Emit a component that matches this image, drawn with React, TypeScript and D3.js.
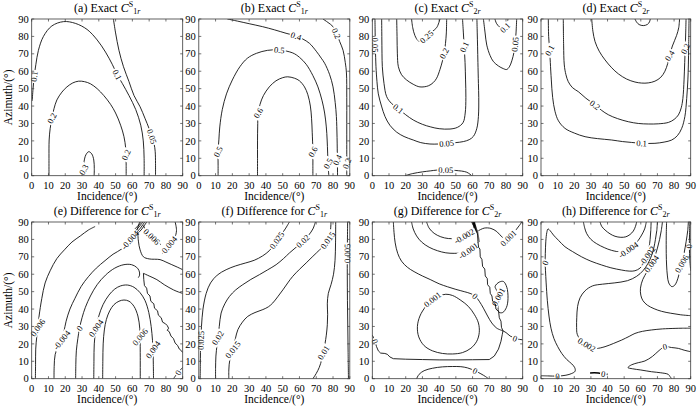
import React from "react";
import * as d3 from "d3";

type Pt = [number, number];
type Lab = { at: Pt; t: string; a?: number };
type Contour = { pts: Pt[]; labels?: Lab[]; linear?: boolean; closed?: boolean; width?: number };

const ticks = [0, 10, 20, 30, 40, 50, 60, 70, 80, 90];
const tickLabels = ticks.map(String);

// ---------- (a) Exact C1r ----------
const a01: Pt[] = [[0.3,43],[0.8,50],[1.5,57],[2.5,64],[4,72],[7,80],[12,86],[19,88.5],[26,87.5],[33,84],[39,78],[44,71],[48,64],[51,58],[54,53],[58,46],[62,38],[65,29],[66.5,20],[67,10],[67,0]];
const a005: Pt[] = [[48.7,90],[50,82],[52,72],[54.7,62.6],[58,54],[61,46],[64.6,39.6],[67.5,33],[70,27],[71.6,22.5],[73,18],[73.6,14],[73.8,7],[73.8,0]];
const a02: Pt[] = [[10.3,0],[10.3,10],[10.4,20.5],[11,27],[12,33],[13.3,38.5],[15,43.5],[18,48],[21,51],[24.5,53.3],[28,54.3],[31.5,54],[35,52.8],[39,50],[43,46],[47,41],[50,36],[53,29],[55,22.4],[56,16],[56.2,12],[56.3,6],[56.3,0]];
const a03: Pt[] = [[30.4,0],[31,3.5],[31.2,8],[32.3,12],[34,13.8],[35.8,12.5],[37,9],[37.3,4],[37.2,0]];

// ---------- (b) Exact C1r ----------
const b04: Pt[] = [[17,90],[23,88.8],[30,87.3],[38,85.6],[45,83.8],[52,81.8],[58,80.2],[62,78.5],[66,76],[70,71.5],[73,67.5],[75,64.6],[78,58],[80,51],[81.3,42],[82,34],[82.4,22],[82.6,9],[82.7,0]];
const b05: Pt[] = [[11.5,0],[11.5,6],[11.5,13.8],[12,21],[12.5,28],[14,38],[16.5,47],[20,55],[24.5,62.6],[29,67.5],[34.4,70.3],[41,72],[48,72.2],[56,70.5],[60,68],[64,64],[68,57.5],[71,51],[73.5,43],[75,36],[76,28],[76.5,20.5],[76.8,13],[77,7],[77.5,0]];
const b06: Pt[] = [[35,0],[35,10],[35,20],[35.1,28],[35.4,36],[36.5,41],[38.5,46],[42,51],[46,54.5],[50,56.3],[53,56.8],[57,56],[60,54.5],[63,51],[65,46.5],[66.5,40],[67.2,33],[67.6,25],[68,13.8],[68,6],[68,0]];
const b02: Pt[] = [[74,90],[77,88],[80,85.6],[82,81.8],[84,77],[86,72],[87.3,65],[88,59],[88.2,45],[88.2,30],[88.2,18],[88.2,7],[88.2,0]];

// ---------- (c) Exact C2r ----------
const c005a: Pt[] = [[1.6,90],[1.7,82],[1.8,75],[2,68],[2.2,62.6],[2.8,54],[3.6,47],[5.5,40],[7.6,34],[10.5,29],[14.6,25],[19,22.5],[24.5,20.5],[29,19],[34.5,18.2],[39.5,18.2],[44.5,18.6],[50,19],[54.5,19.6],[58,20.7],[60.5,22.6],[62.5,27],[63.5,34],[63.7,45],[63.5,53],[63.2,65],[63,74],[62.8,82],[62.6,90]];
const c01: Pt[] = [[5.6,90],[5.7,80],[5.8,70],[6,62.6],[7,53],[8.6,45.4],[11.5,41.5],[15.5,38.5],[20,35],[24.5,32],[30,29.5],[35,28],[40,27],[46.5,26.8],[51,27.8],[54.3,30.5],[55.6,36],[56,45],[55.8,55],[55.5,65],[55,74],[54.5,82],[54,90]];
const c02: Pt[] = [[14.6,90],[14.8,80],[15,70],[15.6,62.6],[17.5,58],[20.5,55],[24.5,52.5],[28.5,51],[33.5,51.6],[36.5,53.5],[38.5,56],[40.5,61],[42,66],[43,70.3],[43.8,76],[44.3,82],[44.5,90]];
const c025: Pt[] = [[23.5,90],[24.2,85],[25.5,80.5],[27.5,77.5],[29.5,77.3],[32.5,79.8],[35.5,82.5],[38.5,85],[40.5,90]];
const c005b: Pt[] = [[66.5,90],[67.5,82],[68.5,75],[70.5,69],[72.5,65.5],[75.5,63],[78.4,61.5],[80.4,61],[82,62.5],[83.5,66],[84.8,71],[85.4,75.5],[86,82],[86.4,90]];
const c01b: Pt[] = [[73.4,90],[74.3,87.5],[76,85.5],[77.5,84.5],[79.5,85],[80.6,87.5],[81.2,90]];
const c005c: Pt[] = [[19.6,0],[24,1.2],[30,2.2],[35,2.8],[38.5,3.2],[44,3.3],[50,3],[56.5,2],[59.5,0]];

// ---------- (d) Exact C2r ----------
const d01: Pt[] = [[4.4,90],[4.6,80],[5.2,72],[5.6,65],[6.2,55],[7,45],[8.4,37],[10.5,31.5],[14.4,27.2],[20,24.5],[26.5,22.4],[34,21.3],[42.5,20.5],[49,19.6],[54.5,19.1],[60.5,18.6],[68.5,18.6],[74,19.3],[78.6,20.5],[82,23],[84.6,27.2],[86.5,34],[87.6,44.4],[88.3,55],[88.6,63.6],[88.8,75],[89,90]];
const d02: Pt[] = [[13.4,90],[13.6,75],[14,63.6],[15,58],[16.4,54],[19,50.5],[22.4,48.3],[27,44.5],[32.5,40.6],[36.5,37.5],[40.5,35],[46,32.8],[52.5,31],[58.5,30],[64.5,29.7],[70.5,29.8],[76.6,30.6],[80,32.3],[82.6,34.9],[84.3,39],[85.3,44.4],[86,55],[86.4,65],[86.7,73],[87,82],[87.2,90]];
const d04: Pt[] = [[30.5,90],[31.2,83],[32.5,77],[35,71.5],[38.5,66.5],[42.5,62],[46.5,58.5],[51.5,55.5],[56.5,53.8],[60.5,53.2],[64.5,53.3],[68.5,54.3],[72,56.5],[74.5,60],[76.2,64.5],[77.3,69],[79,74.5],[81.5,80.5],[82.8,85],[83.3,90]];
const d05: Pt[] = [[56.5,90],[57.5,88.2],[59,86.8],[61.5,86.2],[64,86.9],[65.2,88.3],[65.7,90]];

// ---------- (e) Difference C1r ----------
const e006n: Pt[] = [[2.2,0],[2.3,8],[2.4,17],[3,24],[3.6,29.3],[4.4,36],[6,46],[8,55],[11,62],[15,69],[19.5,74],[24,78.5],[29,82],[33.8,85.4],[37.8,87.4]];
const e004n: Pt[] = [[13.3,0],[13.4,7],[14,14],[15.8,18.5],[17.9,22.2],[19.2,27],[20.5,33],[22.8,40],[25.8,46.2],[29.5,53],[33.8,58.6],[38.5,63.5],[43.7,67.8],[48.5,71.5],[53.6,74.5],[58.6,79.7],[61,82.5],[62.5,85],[63.5,87.5],[64.3,90]];
const e0: Pt[] = [[26.2,0],[26.3,8],[26.6,16],[27.5,23],[28.5,29],[30,35],[32,41],[35,47.5],[39,54],[44,59.5],[49.5,63.5],[55,65.5],[59.5,65.5],[62.5,64],[64,62],[64.3,59.5],[63.5,58]];
const e004: Pt[] = [[37,0],[37.1,10],[37.3,20],[38.3,29],[40,36],[42.5,42.5],[46,48],[49.5,51.5],[53,53.3],[57,53.8],[61,52.5],[64.5,49.5],[67.5,45],[69.8,38],[71.2,30],[72,22],[72.3,16.7],[72.5,8],[72.6,0]];
const e006: Pt[] = [[42.3,0],[42.4,10],[42.6,20],[43.3,28],[44.5,34],[46.5,39],[49,42.5],[52,44.5],[55,45.2],[58,44.5],[61,41.5],[63.3,36],[64.4,29],[64.6,24],[64.7,12],[64.7,0]];
const eCl1: Pt[] = [[61.5,86],[63,87.5],[64.5,89],[65.3,90]];
const eCl2: Pt[] = [[62.2,85.2],[63.8,87],[65.3,88.8],[66.3,90]];
const eCl3: Pt[] = [[63,84.5],[64.8,86.5],[66.3,88.5],[67.3,90]];
const eCl4: Pt[] = [[63.8,84],[65.7,86],[67.3,88.2],[68.5,90]];
const eRtop: Pt[] = [[63.2,84.5],[63.6,79],[64.6,74],[66.6,70],[70,68.8],[76.5,68.4],[80,67],[83.5,65.5],[87,64],[90,62.6]];
const e006t: Pt[] = [[66.5,88],[69,84],[71.5,81.6],[74.5,79],[77,77]];
const e004r: Pt[] = [[85.5,90],[86.3,85],[85,80.5],[82,77],[79.5,74.5],[78,72]];
const eJ1: Pt[] = [[66.6,60.5],[70,59],[74.6,56.9],[79,54],[84.5,51],[87.5,49.8],[90,49]];
const eJ2: Pt[] = [[66.6,60.5],[66.8,57],[67.2,53.5],[68.5,52],[69,49],[70.5,47.5],[71,44.5],[72.8,43],[73.2,40.5],[75,39],[75.5,36.5],[77.2,35],[78,32.5],[79.8,31.5],[80.8,30.5],[81.6,29],[80.8,27.8],[82,27],[83,24.5],[84.5,23],[85.5,20.5],[87,19],[88,17],[89.3,16],[90,15]];
const eBr: Pt[] = [[84.5,0],[86,2],[87.3,3.5],[88.6,5],[90,6.5]];

// ---------- (f) Difference C1r ----------
const f025: Pt[] = [[0.8,0],[0.9,8],[1,15],[1.2,22],[1.6,30],[2.5,40],[4.4,49],[7,55],[11,59.5],[16.3,62.6],[22,64.8],[28,66.5],[33,68],[38,70.5],[42,73.5],[44.5,76.5],[46.5,79.5],[49,82.5],[51.5,86],[54,90]];
const f02: Pt[] = [[10,0],[10,6],[10.2,13],[10.8,19],[11.3,23.4],[12.2,30],[13.3,37.7],[15.5,43],[18.3,47.3],[22,51],[26.2,54],[31,57],[36.2,59.8],[41,62.5],[46.1,65.5],[50.5,69],[54,72.2],[58,75.5],[62,79],[65.5,82.5],[68,86],[69.5,90]];
const f015: Pt[] = [[17.9,0],[17.9,5],[18.5,11],[20.3,16.7],[21.8,23],[23.3,28.2],[26,32.5],[29.2,35.8],[33.5,38],[38.2,39.7],[41.5,41.3],[44.1,43.5],[47,47],[50.1,51],[53,55],[56,58.8],[60,62.8],[64,66.5],[68,70.3],[72,74],[74.5,76.5],[76.8,79.5],[78.3,84],[78.8,90]];
const f01: Pt[] = [[68,0],[70,3],[71.8,6.5],[73.3,11],[74.3,15],[75.2,20],[76,25],[76.6,31],[76.8,37],[76.6,43],[77.2,49],[78.8,54],[80.3,60],[81.2,68],[81.5,78],[81.6,90]];
const f005: Pt[] = [[88.7,90],[88.6,80],[88.5,72],[88.5,60],[88.6,45],[88.8,30],[89,15],[89.2,0]];

// ---------- (g) Difference C2r ----------
const g0a: Pt[] = [[12.6,90],[13,84],[13.7,78],[15.2,72],[17.5,67.5],[21,64],[25,61.5],[30,59],[35,56.8],[40,54.5],[45,52.8],[50,51.3],[55,50],[58.5,49],[61.5,47.5],[64,44.5],[66.5,40.5],[69,36],[71.5,32],[74.5,29],[78.2,27.5]];
const gm001: Pt[] = [[23.5,90],[24.5,86],[26.5,82],[29.5,78.5],[34,75.5],[39,73.5],[44,72.3],[49,72],[53.5,72.3],[57.5,73.5],[60.5,75.5],[63.3,78.5]];
const gm002: Pt[] = [[32.5,90],[34,86.5],[37,83.5],[41,81.5],[45.5,80.5],[50,80.6],[55,81.8],[58.5,83.8],[60.5,86.5],[61.3,90]];
const gJag: Pt[] = [[60.3,90],[61.3,87.5],[62.5,85],[63,82.5],[63.2,79],[63.6,75.5],[64.4,74.5],[64.6,70],[65.6,68.5],[66,64.5],[67.3,63],[67.6,59],[68.8,57.5],[69,54],[70.3,52.5],[70.6,49],[71.6,47.5],[72,44.5],[73.6,43],[74,40],[75.6,38.5],[76,35],[77,33],[77.3,29.5],[78.2,27.5]];
const gBandDark: Pt[] = [[59.2,90],[61.4,90],[63.2,84.3],[62.3,83.8]];
const gBandGray: Pt[] = [[61.6,87.5],[63.4,84.5],[64.4,78.5],[63.6,78.5],[62.6,84]];
const g001t: Pt[] = [[63.5,85],[67,86.5],[71,86.3],[74.5,84.5],[77.5,81.5],[79.5,80.2],[81.5,80.8],[83.5,82.8],[86,85.5],[88,88],[89.5,90]];
const g001m: Pt[] = [[40,47.5],[36,45.5],[32,41.5],[28.5,36],[27,30],[27.8,24],[31,19],[36,16],[42,14.5],[48,14.2],[54,15],[59,17.5],[62.5,21.5],[64,26.5],[63.5,32],[61,37],[57.5,41.5],[53,45],[48,47.8],[44,48.5]];
const g001r: Pt[] = [[73.5,53],[76,55.5],[78.5,55.8],[80.5,52.5],[81.2,46],[80.3,41],[78,38],[75.8,38.2],[75.2,42],[75.4,47],[74.5,50.5]];
const g0b: Pt[] = [[0,25],[0.8,23.5],[1.6,21.5],[2.5,18.5],[3.6,16],[5,14.7],[7.5,14.5],[9,14],[10.5,12.5],[12.6,11.5],[20,11.2],[30,11],[40,10.8],[50,10.8],[60,10.9],[70,11],[73,13],[75.5,17],[77,21.5],[77.8,25.5],[78.2,27.5],[80,26.5],[82.5,24.5],[85.4,23.2],[88,22.6],[90,22.3]];
const g0c: Pt[] = [[26.5,0],[28,2.5],[31,4.6],[36,6],[42,6.8],[48,7],[53,6.9],[57,6.2],[61.5,4.5],[65,2.8],[67.8,1.2],[69.5,0]];

// ---------- (h) Difference C2r ----------
const h0a: Pt[] = [[0,1.7],[4,1.6],[10,1.5],[15,2],[18.5,3],[20.5,4.3],[20.3,6.3],[18.5,8.5],[15.5,11],[12.5,14.5],[10,18.5],[7.8,23],[6,29],[4.8,36],[3.8,45],[3.1,55],[2.7,62],[2.5,66.5],[2.6,72],[2.9,79],[3.5,84],[4.2,86],[5.5,85],[7.5,82.5],[10.5,79.5],[14.4,75.8],[19,73],[24.4,70],[30,67.5],[36.5,65.3],[42,63.7],[48.5,62.4],[53,61.8],[56.5,62],[59.5,63.5],[62,66.5],[63.8,70.5],[64.9,75],[65.6,80],[66,85],[66.2,90]];
const h004n: Pt[] = [[25.5,90],[26.3,86.5],[27.5,83.3],[30,80],[33.5,77.5],[38,75.3],[42.5,73.7],[48.5,72.8],[52.5,74],[55.5,76.2],[58.5,79.5],[60.5,82.5],[62.3,86],[63.3,90]];
const h006n: Pt[] = [[35.5,90],[36.5,87.5],[38.5,85.4],[41.5,83.2],[44.5,81.8],[48,81.2],[51,81.5],[53.5,82.8],[55.5,84.8],[56.8,87.5],[57.5,90]];
const h002: Pt[] = [[70,90],[69.6,85],[68.8,80],[67.8,75],[66.4,70.5],[64.2,66],[61.3,62],[57.5,58.8],[52,56.3],[44,55],[37,54.3],[31,53.3],[26.5,50.5],[23.5,46.5],[22,41.5],[21.5,35],[21.4,29.5],[21.8,25.5],[24.5,21.5],[27.5,19.5],[30.5,18],[33.5,17.4],[38.5,18.4],[43.5,20.2],[48.5,22.2],[53,24.3],[56.5,26],[61,27.2],[66.5,28],[73,28.6],[80.6,28.9],[85,29],[90,29]];
const h004: Pt[] = [[73,90],[72.3,85],[71.3,80],[70,75],[68.5,70.5],[66.5,66],[63.8,61.5],[61.2,57],[59.8,52],[60,48],[61.3,44.8],[64,42.2],[68,40.2],[72.5,38.7],[78,37.6],[84,36.7],[90,36.2]];
const h006: Pt[] = [[75.5,90],[75.3,82],[75.3,72],[75.5,65.3],[76,59],[76.8,55],[78.6,52.9],[80.2,53.5],[81.6,55.7],[83,60],[84.6,66],[86,72],[87.3,79],[88.2,85],[88.6,90]];
const h0r: Pt[] = [[89.5,90],[89.3,83],[89.2,76],[89.5,68],[90,62]];
const h0b: Pt[] = [[78.6,0],[77.5,1.3],[76.5,2.5],[72,3.4],[66.5,4],[60,5],[55,5.7],[52.3,6.4],[54.5,8],[58.5,9.2],[62.5,10.2],[67,12.8],[71,16.2],[74.5,18.4],[78.5,17.9],[82.6,17.4],[86,16.4],[90,15.5]];
const h0c: Pt[] = [[29.5,3.3],[32,3.4],[34.5,3.3],[37.5,2.8],[40,2.5]];

type PanelDef = {
  letter: string; kind: string; num: string; col: number; row: number;
  contours: Contour[]; polys?: { pts: Pt[]; fill: string }[];
};

const L = (at: Pt, t: string, a?: number): Lab => ({ at, t, a });

const PANELS: PanelDef[] = [
  { letter: "a", kind: "Exact ", num: "1", col: 0, row: 0, contours: [
    { pts: a01, labels: [L([1.5,57],"0.1"), L([51,58],"0.1")] },
    { pts: a005, labels: [L([71.6,22.5],"0.05")] },
    { pts: a02, labels: [L([12,33],"0.2",-62), L([56.2,12],"0.2",-65)] },
    { pts: a03, labels: [L([31,3.5],"0.3",-60)] },
  ]},
  { letter: "b", kind: "Exact ", num: "1", col: 1, row: 0, contours: [
    { pts: b04, labels: [L([58,80.2],"0.4"), L([82.6,9],"0.4",-65)] },
    { pts: b05, labels: [L([11.5,13.8],"0.5",-65), L([48,72.2],"0.5"), L([77,7],"0.5",-62)] },
    { pts: b06, labels: [L([35.4,36],"0.6",-58), L([68,13.8],"0.6",-62)] },
    { pts: b02, labels: [L([82,81.8],"0.2"), L([88.2,7],"0.2",-70)] },
  ]},
  { letter: "c", kind: "Exact ", num: "2", col: 2, row: 0, contours: [
    { pts: c005a, labels: [L([1.8,75],"0.05"), L([44.5,18.6],"0.05")] },
    { pts: c01, labels: [L([15.5,38.5],"0.1"), L([55,74],"0.1",-65)] },
    { pts: c02, labels: [L([43,70.3],"0.2",-62)] },
    { pts: c025, labels: [L([32.5,79.8],"0.25")] },
    { pts: c005b, labels: [L([85.4,75.5],"0.05")] },
    { pts: c01b, labels: [L([79.5,85],"0.1")] },
    { pts: c005c, labels: [L([44,3.3],"0.05")] },
  ]},
  { letter: "d", kind: "Exact ", num: "2", col: 3, row: 0, contours: [
    { pts: d01, labels: [L([5.2,72],"0.1",-62), L([60.5,18.6],"0.1")] },
    { pts: d02, labels: [L([32.5,40.6],"0.2"), L([86.7,73],"0.2",-65)] },
    { pts: d04, labels: [L([77.3,69],"0.4",-58)] },
    { pts: d05 },
  ]},
  { letter: "e", kind: "Difference for ", num: "1", col: 0, row: 1, contours: [
    { pts: e006n, labels: [L([3.6,29.3],"0.006",-55)] },
    { pts: e004n, labels: [L([17.9,22.2],"-0.004",-52), L([58.6,79.7],"-0.004")] },
    { pts: e0, labels: [L([28.5,29],"0",-55)] },
    { pts: e004, labels: [L([38.3,29],"0.004",-55), L([72.3,16.7],"0.004",-55)] },
    { pts: e006, labels: [L([64.6,24],"0.006",-50)] },
    { pts: eCl1 }, { pts: eCl2 }, { pts: eCl3 }, { pts: eCl4 },
    { pts: eRtop },
    { pts: e006t, labels: [L([71.5,81.6],"0.006")] },
    { pts: e004r, labels: [L([82,77],"0.004",-50)] },
    { pts: eJ1 },
    { pts: eJ2, linear: true },
    { pts: eBr, labels: [L([87.3,3.5],"0",-60)] },
  ]},
  { letter: "f", kind: "Difference for ", num: "1", col: 1, row: 1, contours: [
    { pts: f025, labels: [L([1.2,22],"0.025"), L([46.5,79.5],"0.025")] },
    { pts: f02, labels: [L([11.3,23.4],"0.02",-58), L([62,79],"0.02")] },
    { pts: f015, labels: [L([20.3,16.7],"0.015",-52), L([76.8,79.5],"0.015",-55)] },
    { pts: f01, labels: [L([74.3,15],"0.01",-58)] },
    { pts: f005, labels: [L([88.5,72],"0.005")] },
  ]},
  { letter: "g", kind: "Difference for ", num: "2", col: 2, row: 1, contours: [
    { pts: g0a, labels: [L([61.5,47.5],"0")] },
    { pts: gm001, labels: [L([57.5,73.5],"-0.001",-35)] },
    { pts: gm002, labels: [L([55,81.8],"-0.002",-30)] },
    { pts: gJag, linear: true },
    { pts: g001t, labels: [L([81.5,80.8],"0.001",-45)] },
    { pts: g001m, closed: true, labels: [L([36,45.5],"0.001")] },
    { pts: g001r, closed: true, labels: [L([75.4,47],"0.001",-62)] },
    { pts: g0b, linear: true, labels: [L([1.6,21.5],"0"), L([85.4,23.2],"0")] },
    { pts: g0c, labels: [L([61.5,4.5],"0")] },
  ], polys: [{ pts: gBandDark, fill: "#111" }, { pts: gBandGray, fill: "#777" }] },
  { letter: "h", kind: "Difference for ", num: "2", col: 3, row: 1, contours: [
    { pts: h0a, labels: [L([10,1.5],"0"), L([2.5,66.5],"0",-65), L([63.8,70.5],"-0.002",-55)] },
    { pts: h004n, labels: [L([52.5,74],"-0.004",-35)] },
    { pts: h006n },
    { pts: h002, labels: [L([27.5,19.5],"0.002")] },
    { pts: h004, labels: [L([66.5,66],"0.004",-55)] },
    { pts: h006, labels: [L([84.6,66],"0.006",-60)] },
    { pts: h0r, labels: [L([89.2,76],"0")] },
    { pts: h0b, labels: [L([74.5,18.4],"0")] },
    { pts: h0c, width: 1.6, labels: [L([37.5,2.8],"0")] },
  ]},
];

const COLS = [
  { l: 31.7, r: 182.7 },
  { l: 198.8, r: 349.8 },
  { l: 372.3, r: 522.7 },
  { l: 541, r: 690.7 },
];
const ROWS = [
  { t: 19, b: 175.7, title: 11.5, tick: 188.5, xl: 200 },
  { t: 222, b: 378.7, title: 214.5, tick: 391.5, xl: 403 },
];

const FONT = "Liberation Serif, Times New Roman, serif";
const LFS = 8.5;

function labW(t: string) {
  let w = 0;
  for (const c of t) w += c === "." ? 2 : c === "-" ? 2.7 : 4;
  return w * (LFS / 8) + 2.5;
}

function Panel({ p }: { p: PanelDef }) {
  const c = COLS[p.col];
  const r = ROWS[p.row];
  const x = d3.scaleLinear().domain([0, 90]).range([c.l, c.r]);
  const y = d3.scaleLinear().domain([0, 90]).range([r.b, r.t]);
  const id = `p${p.letter}`;
  const frame = "#3a3a3a";
  const tl = 2.5;

  const items = p.contours.map((ct, ci) => {
    const curve = ct.linear ? d3.curveLinear : ct.closed ? d3.curveCatmullRomClosed.alpha(0.5) : d3.curveCatmullRom.alpha(0.5);
    const line = d3.line<Pt>().x((d) => x(d[0])).y((d) => y(d[1])).curve(curve);
    const n = ct.pts.length;
    const labs = (ct.labels || []).map((lb) => {
      let bi = 0, bd = Infinity;
      ct.pts.forEach((q, i) => {
        const dd = (q[0] - lb.at[0]) ** 2 + (q[1] - lb.at[1]) ** 2;
        if (dd < bd) { bd = dd; bi = i; }
      });
      const pa = ct.closed ? ct.pts[(bi - 1 + n) % n] : ct.pts[Math.max(bi - 1, 0)];
      const pb = ct.closed ? ct.pts[(bi + 1) % n] : ct.pts[Math.min(bi + 1, n - 1)];
      let ang = (Math.atan2(y(pb[1]) - y(pa[1]), x(pb[0]) - x(pa[0])) * 180) / Math.PI;
      if (ang > 90) ang -= 180;
      if (ang <= -90) ang += 180;
      if (lb.a !== undefined) ang = lb.a;
      return { cx: x(ct.pts[bi][0]), cy: y(ct.pts[bi][1]), ang, t: lb.t, w: labW(lb.t) };
    });
    const mid = `${id}m${ci}`;
    return { d: line(ct.pts) || "", labs, mid, width: ct.width || 0.85 };
  });

  return (
    <g>
      <defs>
        <clipPath id={`${id}clip`}>
          <rect x={c.l} y={r.t} width={c.r - c.l} height={r.b - r.t} />
        </clipPath>
        {items.filter((it) => it.labs.length).map((it) => (
          <mask key={it.mid} id={it.mid} maskUnits="userSpaceOnUse" x={c.l - 20} y={r.t - 20} width={c.r - c.l + 40} height={r.b - r.t + 40}>
            <rect x={c.l - 20} y={r.t - 20} width={c.r - c.l + 40} height={r.b - r.t + 40} fill="white" />
            {it.labs.map((lb, k) => (
              <rect key={k} x={-lb.w / 2} y={-4.4} width={lb.w} height={8.8} fill="black" transform={`translate(${lb.cx},${lb.cy}) rotate(${lb.ang})`} />
            ))}
          </mask>
        ))}
      </defs>
      <g clipPath={`url(#${id}clip)`}>
        {(p.polys || []).map((pl, k) => (
          <path key={k} d={(d3.line<Pt>().x((d) => x(d[0])).y((d) => y(d[1])).curve(d3.curveLinearClosed)(pl.pts)) || ""} fill={pl.fill} stroke="none" />
        ))}
        {items.map((it, k) => (
          <path key={k} d={it.d} fill="none" stroke="#000" strokeWidth={it.width} strokeLinejoin="round" mask={it.labs.length ? `url(#${it.mid})` : undefined} />
        ))}
      </g>
      {items.map((it, k) =>
        it.labs.map((lb, j) => (
          <text key={`${k}-${j}`} transform={`translate(${lb.cx},${lb.cy}) rotate(${lb.ang})`} textAnchor="middle" dominantBaseline="central" fontSize={LFS} style={{ fontFamily: FONT }} fill="#000">
            {lb.t}
          </text>
        ))
      )}
      <rect x={c.l} y={r.t} width={c.r - c.l} height={r.b - r.t} fill="none" stroke={frame} strokeWidth={0.8} />
      {ticks.map((t) => (
        <g key={t} stroke={frame} strokeWidth={0.7}>
          <line x1={x(t)} x2={x(t)} y1={r.b} y2={r.b - tl} />
          <line x1={x(t)} x2={x(t)} y1={r.t} y2={r.t + tl} />
          <line x1={c.l} x2={c.l + tl} y1={y(t)} y2={y(t)} />
          <line x1={c.r} x2={c.r - tl} y1={y(t)} y2={y(t)} />
        </g>
      ))}
      {ticks.map((t, i) => (
        <text key={`x${t}`} x={x(t)} y={r.tick} textAnchor="middle" fontSize={10.5} style={{ fontFamily: FONT }}>{tickLabels[i]}</text>
      ))}
      {ticks.map((t, i) => (
        <text key={`y${t}`} x={c.l - 3} y={y(t)} dy="0.35em" textAnchor="end" fontSize={10.5} style={{ fontFamily: FONT }}>{tickLabels[i]}</text>
      ))}
      <text x={(c.l + c.r) / 2} y={r.xl} textAnchor="middle" fontSize={11.5} style={{ fontFamily: FONT }}>Incidence/(°)</text>
      {p.col === 0 && (
        <text transform={`translate(12,${(r.t + r.b) / 2}) rotate(-90)`} textAnchor="middle" fontSize={11.5} style={{ fontFamily: FONT }}>Azimuth/(°)</text>
      )}
      <text x={(c.l + c.r) / 2} y={r.title} textAnchor="middle" fontSize={12} style={{ fontFamily: FONT }}>
        ({p.letter}) {p.kind}
        <tspan fontStyle="italic">C</tspan>
        <tspan fontSize={8} dy={-4.5}>S</tspan>
        <tspan fontSize={8} dy={7}>{p.num}</tspan>
        <tspan fontSize={8} fontStyle="italic">r</tspan>
      </text>
    </g>
  );
}

export default function App() {
  return (
    <svg width={700} height={406} viewBox="0 0 700 406" style={{ position: "absolute", left: 0, top: 0, background: "#fff", fontFamily: FONT }}>
      <rect x={0} y={0} width={700} height={406} fill="#fff" />
      {PANELS.map((p) => (
        <Panel key={p.letter} p={p} />
      ))}
    </svg>
  );
}
